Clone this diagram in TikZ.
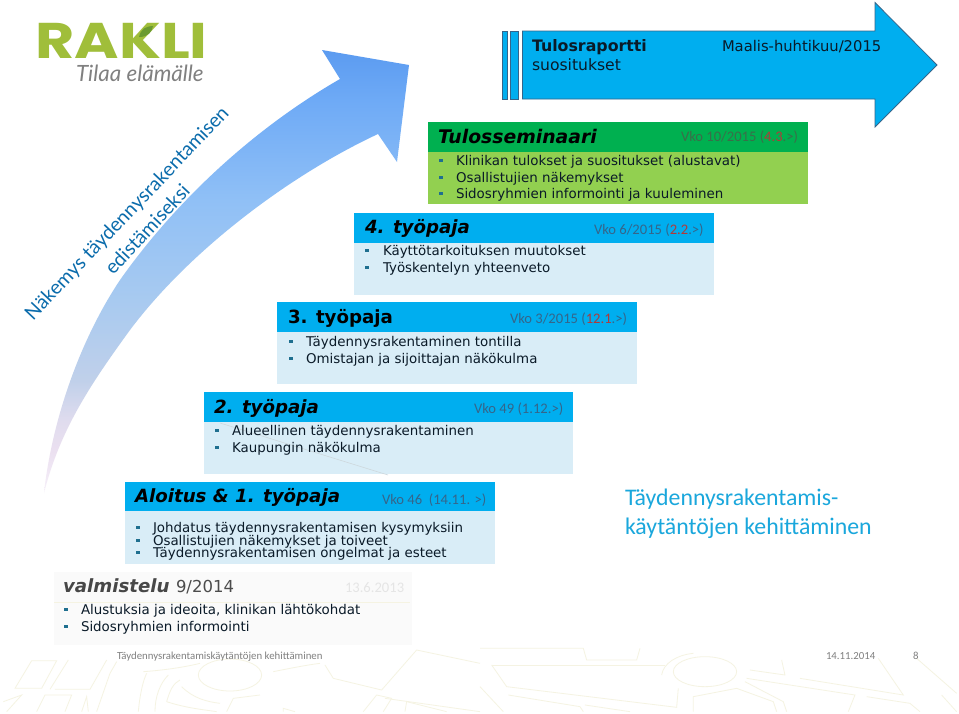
\documentclass[tikz,border=0pt]{standalone}
\usepackage{fontspec}
\setmainfont{DejaVu Sans}
\newfontfamily\vrdfont{DejaVu Sans}
\newfontfamily\clbfont{Carlito}
\newfontfamily\latfont{Lato}
\newfontfamily\popfont{Poppins}
\newcommand{\fsz}[1]{\fontsize{#1}{#1}\selectfont}
\definecolor{hblue}{HTML}{00AEEF}
\definecolor{bblue}{HTML}{D9EDF7}
\definecolor{hgreen}{HTML}{00B050}
\definecolor{bgreen}{HTML}{92D050}
\definecolor{pale}{HTML}{FAFAFA}
\definecolor{road}{HTML}{F5F3E2}
\definecolor{bulc}{HTML}{1F6F8F}
\definecolor{inkc}{HTML}{0A1A28}
\definecolor{dateb}{HTML}{35658A}
\definecolor{dateg}{HTML}{3A6E4A}
\definecolor{redc}{HTML}{B03A3A}
\definecolor{footc}{HTML}{808080}
\definecolor{rotc}{HTML}{0B6CAC}
\definecolor{sidec}{HTML}{1AA7DC}
\definecolor{logoc}{HTML}{A0BE3A}
\definecolor{leafc}{HTML}{6A9A30}
\definecolor{arA}{HTML}{F6F0F9}
\definecolor{arB}{HTML}{EBE0F0}
\definecolor{arC}{HTML}{E0DCEE}
\definecolor{arD}{HTML}{C0D0EA}
\definecolor{arE}{HTML}{A8CAF0}
\definecolor{arF}{HTML}{90C0F6}
\definecolor{arG}{HTML}{6EAAF6}
\definecolor{arH}{HTML}{5B9BF0}
\pgfdeclareverticalshading{sweep}{100bp}{color(0bp)=(arA); color(25bp)=(arA); color(29.75bp)=(arB); color(33.1bp)=(arC); color(37.7bp)=(arD); color(46.7bp)=(arE); color(58bp)=(arF); color(69.3bp)=(arG); color(75bp)=(arH); color(100bp)=(arH)}
\tikzset{
  lbl/.style={anchor=base west,inner sep=0pt,outer sep=0pt},
  head/.style={lbl,text=black,font=\vrdfont\bfseries\itshape\fsz{18.2}},
  headup/.style={lbl,text=black,font=\vrdfont\bfseries\fsz{18.2}},
  itemtxt/.style={lbl,text=inkc,font=\vrdfont\fsz{13.4}},
  bulsq/.style={inner sep=0pt,outer sep=0pt,minimum size=3.6pt,fill=bulc},
  datetxt/.style={lbl,text=dateb,font=\clbfont\fsz{14.6}},
  foot/.style={lbl,text=footc,font=\clbfont\fsz{10.8}},
  rottxt/.style={text=rotc,font=\latfont\fsz{19.6},inner sep=0pt},
  roadline/.style={draw=road,line width=0.8pt},
}
\newcommand{\bul}[5]{\node[bulsq] (#1b) at (#2,#4-4.5) {};\node[itemtxt] (#1t) at (#3,#4) {#5};}
\begin{document}
\begin{tikzpicture}[x=1pt,y=-1pt]
\useasboundingbox (0,0) rectangle (959,713);
\fill[white] (0,0) rectangle (959,713);
% road pattern
\begin{scope}[shift={(0,630)},x=0.3333pt,y=-0.3333pt]
  \draw[roadline] (45,175)--(95,92)--(170,92)--(125,175)--cycle;
  \draw[roadline] (165,178)--(270,178)--(320,90);
  \draw[roadline] (150,178)--(205,90);
  \draw[roadline] (10,215)--(65,195)--(20,245);
  \draw[roadline] (110,245)--(135,195)--(215,195)--(195,245);
  \draw[roadline] (245,245)--(260,200)--(265,245);
  \draw[roadline] (290,245)--(330,130)--(350,95);
  \draw[roadline] (690,135) ellipse [x radius=95,y radius=48];
  \draw[roadline] (430,125) .. controls (500,120) and (560,110) .. (600,100);
  \draw[roadline] (820,125) .. controls (870,115) and (920,105) .. (960,100);
  \draw[roadline] (415,245) .. controls (420,190) and (430,150) .. (440,130);
  \draw[roadline] (465,245) .. controls (465,200) and (480,160) .. (505,135);
  \draw[roadline] (500,215) .. controls (510,180) and (520,160) .. (540,150);
  \draw[roadline] (500,215) .. controls (560,235) and (620,240) .. (650,245);
  \draw[roadline] (545,170) .. controls (580,205) and (620,215) .. (660,220);
  \draw[roadline] (680,245)--(700,205)--(780,195);
  \draw[roadline] (850,245)--(850,235)--(885,245);
  \draw[roadline] (975,105)--(1000,145)--(1145,180)--(1250,60)--(1440,100);
  \draw[roadline] (1155,205)--(1440,245);
  \draw[roadline] (1090,245)--(1130,195)--(1175,205)--(1150,245);
  \draw[roadline] (1215,245)--(1220,215)--(1340,245);
\end{scope}
\begin{scope}[shift={(480,630)},x=0.3333pt,y=-0.3333pt]
  \draw[roadline] (0,55)--(310,55)--(320,90)--(470,90)--(480,55);
  \draw[roadline] (35,105)--(555,105);
  \draw[roadline] (35,105)--(80,170)--(590,232)--(595,175);
  \draw[roadline] (0,170)--(70,245);
  \draw[roadline] (85,195)--(300,230)--(310,245);
  \draw[roadline] (315,225)--(450,245);
  \draw[roadline] (675,125) ellipse [x radius=95,y radius=45];
  \draw[roadline] (640,245)--(640,200)--(770,175)--(880,215)--(890,245);
  \draw[roadline] (800,145)--(1125,195)--(1105,245);
  \draw[roadline] (795,155)--(910,215)--(920,245);
  \draw[roadline] (810,120)--(915,135)--(905,90);
  \draw[roadline] (960,145)--(1270,195)--(1195,85);
  \draw[roadline] (1160,200)--(1290,220)--(1320,245);
  \draw[roadline] (1310,85)--(1430,190);
  \draw[roadline] (1430,245)--(1385,195);
  \draw[roadline] (545,135) .. controls (550,100) and (590,75) .. (640,70);
\end{scope}
% sweeping arrow
\shade[shading=sweep] (322,50)--(409,65)--(397,162)--(378,134)
  .. controls (290,175) and (190,250) .. (130,330)
  .. controls (90,385) and (60,430) .. (44,493)
  .. controls (52,420) and (80,340) .. (120,280)
  .. controls (180,195) and (260,125) .. (340,79)--cycle;
% logo
\node[lbl,text=logoc,font=\popfont\bfseries] (logo) at (35.5,58) {\scalebox{1.37}[1.14]{\fsz{44}RAKLI}};
\fill[leafc] (139,37) .. controls (141,29) and (145,26.5) .. (153,26) .. controls (152,32) and (148,37) .. (139,37)--cycle;
\node[lbl,text=footc,font=\latfont\itshape\fsz{22.4}] (tag) at (76,81) {Tilaa elämälle};
% rotated text
\node[rottxt,rotate=46.5] (rot1) at (127.5,214) {Näkemys täydennysrakentamisen};
\node[rottxt,rotate=47] (rot2) at (147,229) {edistämiseksi};
% final arrow
\fill[hblue,draw=dateb,line width=0.8pt] (502.5,31) rectangle (507,99);
\fill[hblue,draw=dateb,line width=0.8pt] (510,31) rectangle (518.6,99);
\fill[hblue,draw=dateb,line width=0.8pt] (522.4,31)--(875,31)--(875,2.5)--(937,65)--(875,127)--(875,99)--(522.4,99)--cycle;
\node[lbl,text=inkc,font=\vrdfont\bfseries\fsz{15.8}] (tr) at (532,51) {Tulosraportti};
\node[lbl,text=inkc,font=\vrdfont\fsz{15.6}] (su) at (532,70) {suositukset};
\node[lbl,text=inkc,font=\vrdfont\fsz{14.75}] (ma) at (722,51) {Maalis-huhtikuu/2015};
% green box
\fill[bgreen] (428,152) rectangle (808,204);
\fill[hgreen] (428,122) rectangle (808,152);
\node[head,font=\vrdfont\bfseries\itshape\fsz{18.8}] (h5) at (438,143) {Tulosseminaari};
\node[datetxt,text=dateg] (d5) at (681,141) {Vko 10/2015 (\textcolor{redc}{4.3}.>)};
\bul{a}{441}{456}{165}{Klinikan tulokset ja suositukset (alustavat)}
\bul{b}{441}{456}{182}{Osallistujien näkemykset}
\bul{c}{441}{456}{198}{Sidosryhmien informointi ja kuuleminen}
% 4
\fill[bblue] (354,243) rectangle (714,295);
\fill[hblue] (354,213) rectangle (714,243);
\node[head] (h4) at (365,233) {4. työpaja};
\node[datetxt] (d4) at (594,234) {Vko 6/2015 (\textcolor{redc}{2.2}.>)};
\bul{d}{367}{383}{255}{Käyttötarkoituksen muutokset}
\bul{e}{367}{383}{272}{Työskentelyn yhteenveto}
% 3
\fill[bblue] (277,332) rectangle (637,384);
\fill[hblue] (277,302) rectangle (637,332);
\node[headup] (h3) at (288,323) {3. työpaja};
\node[datetxt] (d3) at (510,323) {Vko 3/2015 (\textcolor{redc}{12.1}.>)};
\bul{f}{291}{306}{346}{Täydennysrakentaminen tontilla}
\bul{g}{291}{306}{363}{Omistajan ja sijoittajan näkökulma}
% 2
\fill[bblue] (204,422) rectangle (573,474);
\fill[hblue] (204,392) rectangle (573,422);
\draw[draw=bblue!80!black!60!white,line width=0.6pt] (220,423)--(388,475);
\node[head] (h2) at (214,413) {2. työpaja};
\node[datetxt] (d2) at (474,413) {Vko 49 (1.12.>)};
\bul{h}{217}{232}{435}{Alueellinen täydennysrakentaminen}
\bul{i}{217}{232}{452}{Kaupungin näkökulma}
% 1
\fill[bblue] (125,511) rectangle (495,564);
\fill[hblue] (125,482) rectangle (495,511);
\node[head] (h1) at (135,502) {Aloitus \& 1. työpaja};
\node[datetxt] (d1) at (382,504) {Vko 46\ \ (14.11. >)};
\bul{j}{138}{153}{532}{Johdatus täydennysrakentamisen kysymyksiin}
\bul{k}{138}{153}{545}{Osallistujien näkemykset ja toiveet}
\bul{l}{138}{153}{557}{Täydennysrakentamisen ongelmat ja esteet}
% valmistelu
\fill[pale] (54,572) rectangle (412,645);
\draw[draw=road,line width=0.7pt] (54,602)--(410,602);
\node[head,text=black!72] (h0) at (63,592) {valmistelu};
\node[lbl,text=black!70,font=\vrdfont\fsz{16.5}] (h0b) at (176,592) {9/2014};
\node[datetxt,text=black!10] (d0) at (345,592) {13.6.2013};
\bul{m}{66}{81}{614}{Alustuksia ja ideoita, klinikan lähtökohdat}
\bul{n}{66}{81}{631}{Sidosryhmien informointi}
% side title
\node[lbl,text=sidec,font=\clbfont\fsz{23.8}] (s1) at (625,505) {Täydennysrakentamis-};
\node[lbl,text=sidec,font=\clbfont\fsz{23.8}] (s2) at (625,534) {käytäntöjen kehittäminen};
% footer
\node[foot] (f1) at (117,659) {Täydennysrakentamiskäytäntöjen kehittäminen};
\node[foot] (f2) at (826,659) {14.11.2014};
\node[foot] (f3) at (913,659) {8};
\end{tikzpicture}
\end{document}
